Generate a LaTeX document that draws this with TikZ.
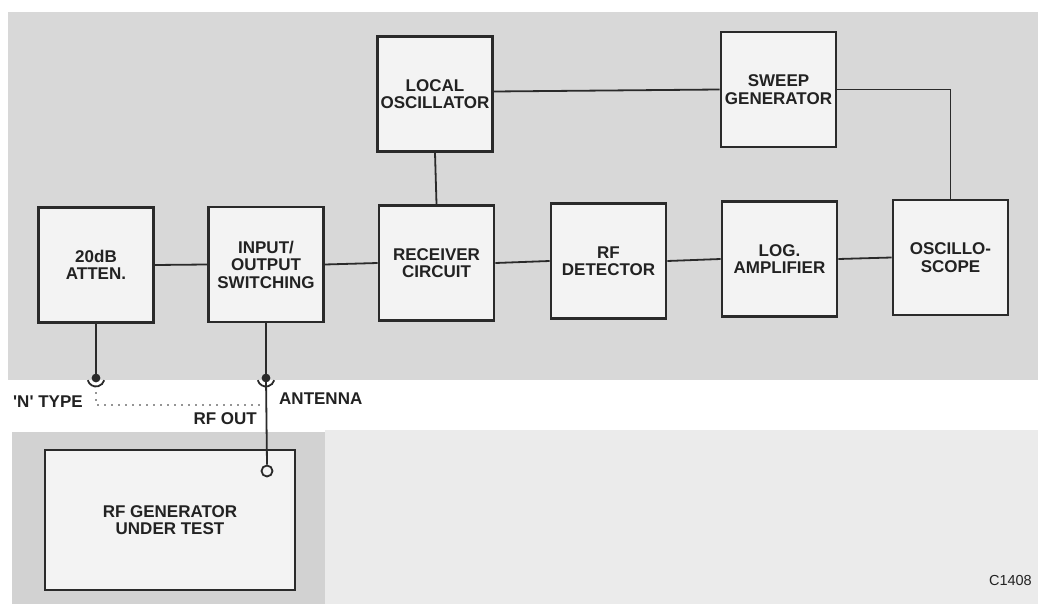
\documentclass[tikz,border=0pt]{standalone}
\usepackage{fontspec}
\setmainfont{Liberation Sans}
\definecolor{linec}{HTML}{2A2A2A}
\definecolor{textc}{HTML}{222222}
\definecolor{bggray}{HTML}{D8D8D8}
\definecolor{bggraytwo}{HTML}{D2D2D2}
\definecolor{bglight}{HTML}{EBEBEB}
\definecolor{boxfill}{HTML}{F3F3F3}
\begin{document}
\begin{tikzpicture}[x=1pt,y=-1pt,
  blk/.style={draw=linec, line width=2.9pt, fill=boxfill, minimum width=115pt, minimum height=115pt,
    inner sep=0pt, align=center, text=textc, font=\fontsize{17}{17.5}\selectfont\bfseries},
  wire/.style={draw=linec, line width=1.8pt},
  dotline/.style={draw=linec, line width=1.9pt, line cap=round, dash pattern=on 0pt off 7pt},
  lbl/.style={font=\fontsize{17}{17.5}\selectfont\bfseries, inner sep=0pt, text=textc}]
% background
\fill[white] (0,0) rectangle (1038,604);
\useasboundingbox (0,0) rectangle (1038,604);
\fill[bggray] (8,12) rectangle (1038,380);
\fill[bglight] (325,430) rectangle (1038,604);
\fill[bggraytwo] (12,432) rectangle (325,604);
% blocks
\node[blk] (att) at (96,265) {20dB\\ATTEN.};
\node[blk] (io)  at (266,264.5) {INPUT/\\OUTPUT\\SWITCHING};
\node[blk] (lo)  at (435,94) {LOCAL\\OSCILLATOR};
\node[blk] (sg)  at (778.5,89.5) {SWEEP\\GENERATOR};
\node[blk] (rc)  at (436.5,263) {RECEIVER\\CIRCUIT};
\node[blk] (rfd) at (608.5,261) {RF\\DETECTOR};
\node[blk] (la)  at (779.5,259) {LOG.\\AMPLIFIER};
\node[blk] (osc) at (950.5,257.5) {OSCILLO-\\SCOPE};
\node[blk, minimum width=250pt, minimum height=140pt] (gen) at (170,520) {RF GENERATOR\\UNDER TEST};
% connectors between blocks
\draw[wire] (att.east) -- (io.west);
\draw[wire] (io.east) -- (rc.west);
\draw[wire] (rc.east) -- (rfd.west);
\draw[wire] (rfd.east) -- (la.west);
\draw[wire] (la.east) -- (osc.west);
\draw[wire] (lo.south) -- (rc.north);
\draw[wire] ([yshift=2.5pt]lo.east) -- (sg.west);
\draw[wire] (sg.east) -| (osc.north);
% sockets
\coordinate (s1) at (96,378);
\coordinate (s2) at (266,378);
\node[circle, draw=linec, line width=1.8pt, minimum size=11pt, inner sep=0pt, fill=boxfill] (gc) at (267,471) {};
\draw[wire] (att.south) -- (s1);
\draw[wire] (io.south) -- (s2);
\draw[wire] (s2) -- (gc.north);
\fill[linec] (s1) circle (4.4);
\fill[linec] (s2) circle (4.4);
\draw[wire] (s1) ++(165:8.5) arc[start angle=165, end angle=15, radius=8.5];
\draw[wire] (s2) ++(165:8.5) arc[start angle=165, end angle=15, radius=8.5];
% dotted link
\coordinate (d1) at (96,393);
\coordinate (d2) at (96,405);
\coordinate (d3) at (262,405);
\draw[dotline] (d1) -- (d2) -- (d3);
% labels
\node[lbl, anchor=west] (nt) at (13,402) {\textquotesingle N\textquotesingle{} TYPE};
\node[lbl, anchor=west] (ant) at (279,399) {ANTENNA};
\node[lbl, anchor=east] (rfo) at (257,419) {RF OUT};
\node[font=\fontsize{14.5}{15}\selectfont, text=textc, inner sep=0pt, anchor=east] (ref) at (1032,581) {C1408};
\end{tikzpicture}
\end{document}
